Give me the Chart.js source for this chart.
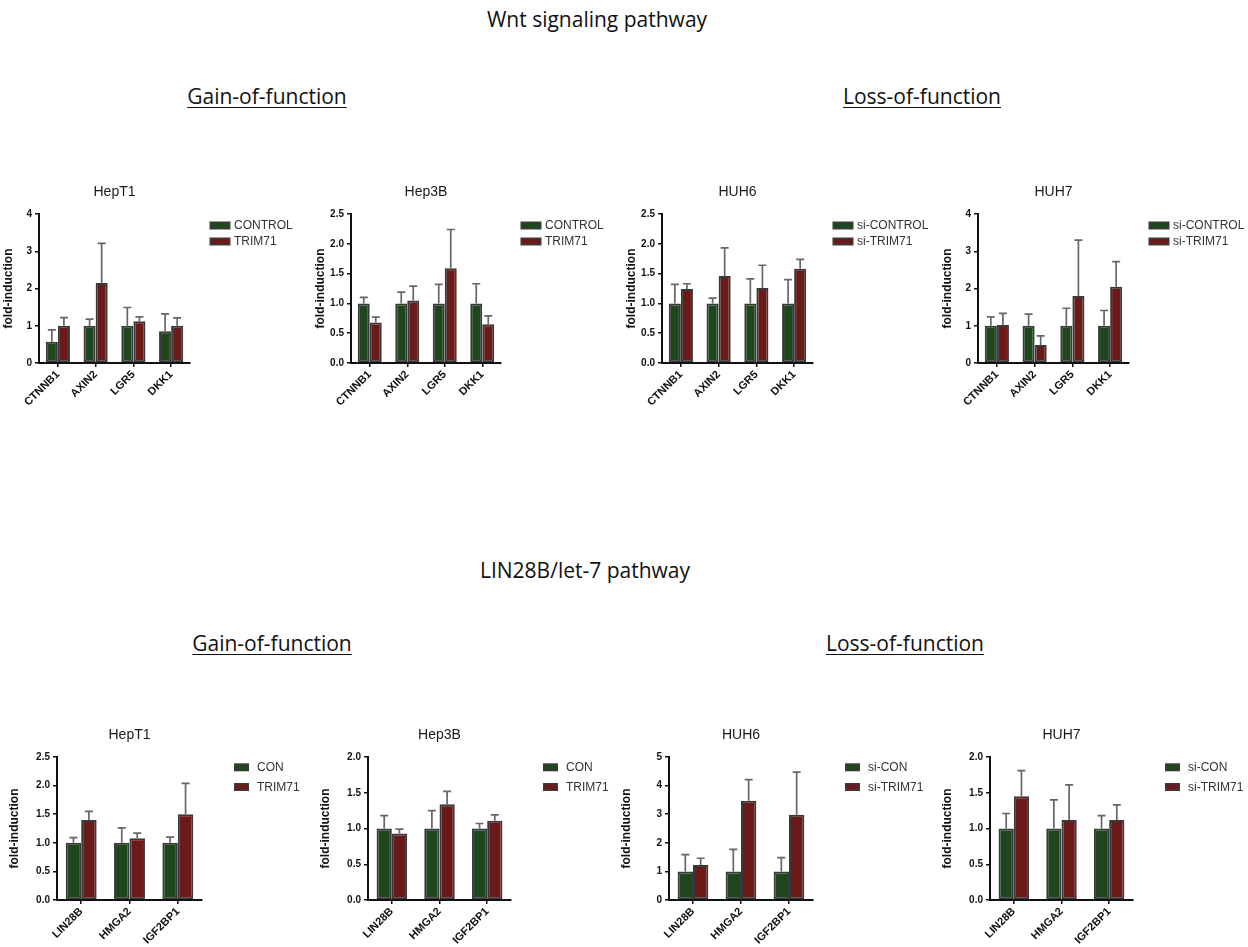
<!DOCTYPE html>
<html>
<head>
<meta charset="utf-8">
<script src="https://cdn.jsdelivr.net/npm/chart.js@4.4.1/dist/chart.umd.min.js"></script>
<style>
html,body{margin:0;padding:0;background:#fff}
body{position:relative;width:1248px;height:947px;overflow:hidden}
.hd{position:absolute;white-space:nowrap;font-family:'Open Sans',sans-serif;font-size:21px;line-height:30px;color:#111;transform:translateX(-50%)}
.u{text-decoration:underline;text-underline-offset:3px;text-decoration-thickness:1px}
canvas{position:absolute}
</style>
</head>
<body>
<div class="hd" style="left:597px;top:4px">Wnt signaling pathway</div>
<div class="hd u" style="left:267px;top:81px">Gain-of-function</div>
<div class="hd u" style="left:922px;top:81px">Loss-of-function</div>
<div class="hd" style="left:585px;top:555px">LIN28B/let-7 pathway</div>
<div class="hd u" style="left:272px;top:628px">Gain-of-function</div>
<div class="hd u" style="left:905px;top:628px">Loss-of-function</div>
<script>
// ---------- DATA ----------
const wntGenes = ['CTNNB1', 'AXIN2', 'LGR5', 'DKK1'];
const linGenes = ['LIN28B', 'HMGA2', 'IGF2BP1'];

// y tick values / labels
const ticks0to4 = [0, 1, 2, 3, 4];
const labels0to4 = ['0', '1', '2', '3', '4'];
const ticks0to25 = [0, 0.5, 1, 1.5, 2, 2.5];
const labels0to25 = ['0.0', '0.5', '1.0', '1.5', '2.0', '2.5'];
const ticks0to2 = [0, 0.5, 1, 1.5, 2];
const labels0to2 = ['0.0', '0.5', '1.0', '1.5', '2.0'];
const ticks0to5 = [0, 1, 2, 3, 4, 5];
const labels0to5 = ['0', '1', '2', '3', '4', '5'];

// Wnt pathway - means and upper error-bar ends
const wntHepT1Ctrl = [0.57, 1.00, 1.00, 0.85];
const wntHepT1CtrlTop = [0.89, 1.18, 1.49, 1.32];
const wntHepT1Trim = [1.00, 2.15, 1.12, 1.00];
const wntHepT1TrimTop = [1.22, 3.21, 1.24, 1.21];

const wntHep3BCtrl = [1.00, 1.00, 1.00, 1.00];
const wntHep3BCtrlTop = [1.10, 1.19, 1.32, 1.33];
const wntHep3BTrim = [0.68, 1.05, 1.59, 0.65];
const wntHep3BTrimTop = [0.77, 1.29, 2.24, 0.79];

const wntHUH6Ctrl = [1.00, 1.00, 1.00, 1.00];
const wntHUH6CtrlTop = [1.32, 1.09, 1.41, 1.40];
const wntHUH6Trim = [1.24, 1.46, 1.26, 1.58];
const wntHUH6TrimTop = [1.33, 1.93, 1.64, 1.74];

const wntHUH7Ctrl = [1.00, 1.00, 1.00, 1.00];
const wntHUH7CtrlTop = [1.24, 1.31, 1.47, 1.41];
const wntHUH7Trim = [1.02, 0.48, 1.80, 2.05];
const wntHUH7TrimTop = [1.33, 0.73, 3.30, 2.72];

// LIN28B/let-7 pathway
const linHepT1Con = [1.00, 1.00, 1.00];
const linHepT1ConTop = [1.09, 1.26, 1.10];
const linHepT1Trim = [1.40, 1.08, 1.50];
const linHepT1TrimTop = [1.55, 1.17, 2.04];

const linHep3BCon = [1.00, 1.00, 1.00];
const linHep3BConTop = [1.18, 1.25, 1.07];
const linHep3BTrim = [0.93, 1.34, 1.11];
const linHep3BTrimTop = [0.99, 1.52, 1.19];

const linHUH6Con = [1.00, 1.00, 1.00];
const linHUH6ConTop = [1.59, 1.77, 1.48];
const linHUH6Trim = [1.22, 3.47, 2.98];
const linHUH6TrimTop = [1.46, 4.21, 4.47];

const linHUH7Con = [1.00, 1.00, 1.00];
const linHUH7ConTop = [1.21, 1.40, 1.18];
const linHUH7Trim = [1.45, 1.12, 1.12];
const linHUH7TrimTop = [1.81, 1.61, 1.33];

// ---------- STYLE / LAYOUT ----------
const FONT = "'Liberation Sans', Arial, sans-serif";
const GREEN = '#1e471e', RED = '#6b1a1a', EDGE = '#3a3a3a', ERR = '#666666';
const TITLE_H = 34, XH = 55, YW = 55, RW = 115;
const legTop = {dx: 19.5, dy: 11.5, gap: 16, bw: 21, bh: 8, tg: 3.5};
const legBot = {dx: 32, dy: 10.3, gap: 19.7, bw: 15, bh: 8, tg: 8};

const errorBars = {
  id: 'errorBars',
  afterDatasetsDraw(chart) {
    const {ctx} = chart;
    const y = chart.scales.y;
    ctx.save();
    ctx.strokeStyle = ERR;
    ctx.lineWidth = 1.7;
    chart.data.datasets.forEach((ds, i) => {
      chart.getDatasetMeta(i).data.forEach((bar, j) => {
        const top = y.getPixelForValue(ds.errTop[j]);
        ctx.beginPath();
        ctx.moveTo(bar.x, bar.y);
        ctx.lineTo(bar.x, top);
        ctx.moveTo(bar.x - 4, top);
        ctx.lineTo(bar.x + 4, top);
        ctx.stroke();
      });
    });
    ctx.restore();
  }
};

const sideLegend = {
  id: 'sideLegend',
  afterDraw(chart, args, o) {
    const {ctx, chartArea} = chart;
    ctx.save();
    chart.data.datasets.forEach((ds, i) => {
      const x = chartArea.right + o.dx;
      const cy = chartArea.top + o.dy + i * o.gap;
      ctx.fillStyle = EDGE;
      ctx.fillRect(x, cy - o.bh / 2, o.bw, o.bh);
      ctx.fillStyle = ds.backgroundColor;
      ctx.fillRect(x + 1.5, cy - o.bh / 2 + 1.5, o.bw - 3, o.bh - 3);
      ctx.fillStyle = '#333';
      ctx.font = '12px ' + FONT;
      ctx.textBaseline = 'middle';
      ctx.textAlign = 'left';
      ctx.fillText(ds.label, x + o.bw + o.tg, cy + 0.5);
    });
    ctx.restore();
  }
};

function build(s) {
  const cw = YW + (s.R - s.L) + RW;
  const ch = TITLE_H + (s.B - s.T) + XH;
  const cv = document.createElement('canvas');
  cv.width = cw; cv.height = ch;
  cv.style.width = cw + 'px'; cv.style.height = ch + 'px';
  cv.style.left = (s.L - YW) + 'px';
  cv.style.top = (s.T - TITLE_H) + 'px';
  document.body.appendChild(cv);
  const barDs = (label, data, top, color) => ({
    label, data, errTop: top, backgroundColor: color, borderColor: EDGE,
    borderWidth: 2, borderSkipped: false, categoryPercentage: 0.64, barPercentage: 1
  });
  new Chart(cv, {
    type: 'bar',
    data: {
      labels: s.labels,
      datasets: [barDs(s.names[0], s.a, s.aTop, GREEN), barDs(s.names[1], s.b, s.bTop, RED)]
    },
    options: {
      responsive: false, animation: false, devicePixelRatio: 1,
      layout: {padding: {left: 0, right: RW, top: 0, bottom: 0}},
      plugins: {
        legend: {display: false},
        tooltip: {enabled: false},
        title: {
          display: true, text: s.title, fullSize: false, color: '#1a1a1a',
          font: {family: FONT, size: 14, weight: 'normal', lineHeight: 1.2},
          padding: {top: 4, bottom: 13.2}
        },
        sideLegend: s.leg
      },
      scales: {
        x: {
          offset: true,
          grid: {display: true, drawOnChartArea: false, drawTicks: true, tickLength: 4, offset: false, color: '#111', lineWidth: 1.5},
          border: {display: true, color: '#111', width: 2, z: 1},
          ticks: {autoSkip: false, maxRotation: 45, minRotation: 45, padding: 1, color: '#111',
                  font: {family: FONT, size: 11, weight: 'bold'}},
          afterFit(sc) { sc.height = XH; }
        },
        y: {
          min: 0, max: s.yTicks[s.yTicks.length - 1],
          afterBuildTicks(sc) { sc.ticks = s.yTicks.map(v => ({value: v})); },
          ticks: {callback: (v, i) => s.yLabels[i], color: '#111', padding: 3,
                  font: {family: FONT, size: 10, weight: 'bold'}},
          grid: {display: true, drawOnChartArea: false, drawTicks: true, tickLength: 4, color: '#111', lineWidth: 1.5},
          border: {display: true, color: '#111', width: 2, z: 1},
          title: {display: true, text: 'fold-induction', color: '#111',
                  font: {family: FONT, size: 12, weight: 'bold'}, padding: {top: s.tp, bottom: 0}},
          afterFit(sc) { sc.width = YW; }
        }
      }
    },
    plugins: [errorBars, sideLegend]
  });
}

const charts = [
  {title: 'HepT1', labels: wntGenes, names: ['CONTROL', 'TRIM71'], a: wntHepT1Ctrl, aTop: wntHepT1CtrlTop, b: wntHepT1Trim, bTop: wntHepT1TrimTop,
   yTicks: ticks0to4, yLabels: labels0to4, L: 39, R: 190, T: 214, B: 363, tp: 17.8, leg: legTop},
  {title: 'Hep3B', labels: wntGenes, names: ['CONTROL', 'TRIM71'], a: wntHep3BCtrl, aTop: wntHep3BCtrlTop, b: wntHep3BTrim, bTop: wntHep3BTrimTop,
   yTicks: ticks0to25, yLabels: labels0to25, L: 351, R: 501, T: 214, B: 363, tp: 17.8, leg: legTop},
  {title: 'HUH6', labels: wntGenes, names: ['si-CONTROL', 'si-TRIM71'], a: wntHUH6Ctrl, aTop: wntHUH6CtrlTop, b: wntHUH6Trim, bTop: wntHUH6TrimTop,
   yTicks: ticks0to25, yLabels: labels0to25, L: 662, R: 813, T: 214, B: 363, tp: 17.8, leg: legTop},
  {title: 'HUH7', labels: wntGenes, names: ['si-CONTROL', 'si-TRIM71'], a: wntHUH7Ctrl, aTop: wntHUH7CtrlTop, b: wntHUH7Trim, bTop: wntHUH7TrimTop,
   yTicks: ticks0to4, yLabels: labels0to4, L: 978, R: 1129, T: 214, B: 363, tp: 17.8, leg: legTop},
  {title: 'HepT1', labels: linGenes, names: ['CON', 'TRIM71'], a: linHepT1Con, aTop: linHepT1ConTop, b: linHepT1Trim, bTop: linHepT1TrimTop,
   yTicks: ticks0to25, yLabels: labels0to25, L: 57, R: 202, T: 757, B: 900, tp: 5.8, leg: legBot},
  {title: 'Hep3B', labels: linGenes, names: ['CON', 'TRIM71'], a: linHep3BCon, aTop: linHep3BConTop, b: linHep3BTrim, bTop: linHep3BTrimTop,
   yTicks: ticks0to2, yLabels: labels0to2, L: 368, R: 511, T: 757, B: 900, tp: 5.8, leg: legBot},
  {title: 'HUH6', labels: linGenes, names: ['si-CON', 'si-TRIM71'], a: linHUH6Con, aTop: linHUH6ConTop, b: linHUH6Trim, bTop: linHUH6TrimTop,
   yTicks: ticks0to5, yLabels: labels0to5, L: 669, R: 813, T: 757, B: 900, tp: 5.8, leg: legBot},
  {title: 'HUH7', labels: linGenes, names: ['si-CON', 'si-TRIM71'], a: linHUH7Con, aTop: linHUH7ConTop, b: linHUH7Trim, bTop: linHUH7TrimTop,
   yTicks: ticks0to2, yLabels: labels0to2, L: 990, R: 1133, T: 757, B: 900, tp: 5.8, leg: legBot}
];
charts.forEach(build);
</script>
</body>
</html>
